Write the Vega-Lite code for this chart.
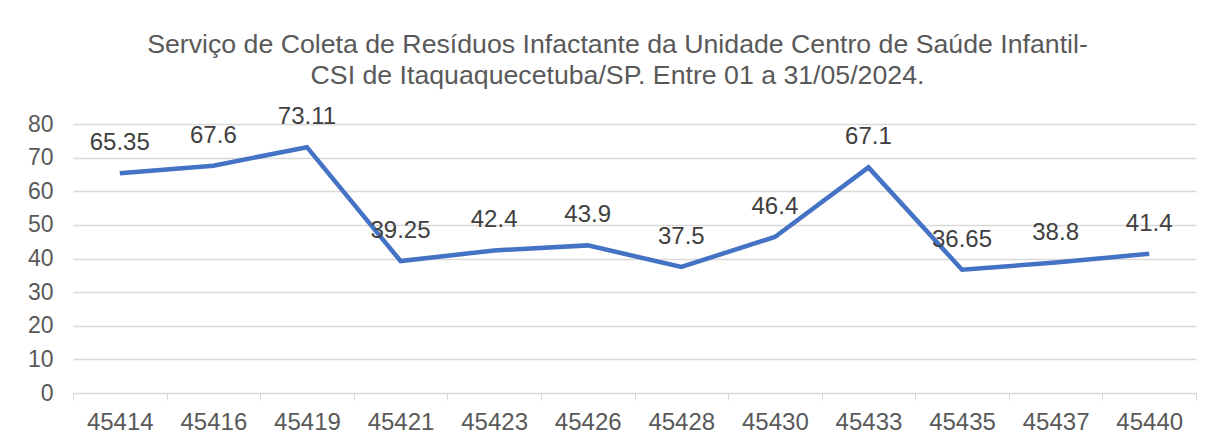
{
  "$schema": "https://vega.github.io/schema/vega-lite/v6.json",
  "autosize": "none",
  "width": 1123,
  "height": 269,
  "padding": {"left": 73, "top": 124, "right": 17, "bottom": 51},
  "background": "white",
  "title": {
    "text": ["Serviço de Coleta de Resíduos Infactante da Unidade Centro de Saúde Infantil-", "CSI de Itaquaquecetuba/SP. Entre 01 a 31/05/2024."],
    "font": "Liberation Sans",
    "fontSize": 26.7,
    "fontWeight": "normal",
    "color": "#595959",
    "lineHeight": 31,
    "anchor": "middle",
    "frame": "group",
    "dx": -17,
    "offset": 15
  },
  "config": {
    "view": {"stroke": null},
    "font": "Liberation Sans"
  },
  "data": {
    "values": [
      {"d": "45414", "v": 65.35},
      {"d": "45416", "v": 67.6},
      {"d": "45419", "v": 73.11},
      {"d": "45421", "v": 39.25},
      {"d": "45423", "v": 42.4},
      {"d": "45426", "v": 43.9},
      {"d": "45428", "v": 37.5},
      {"d": "45430", "v": 46.4},
      {"d": "45433", "v": 67.1},
      {"d": "45435", "v": 36.65},
      {"d": "45437", "v": 38.8},
      {"d": "45440", "v": 41.4}
    ]
  },
  "encoding": {
    "x": {
      "field": "d", "type": "nominal", "sort": null,
      "scale": {"paddingInner": 0, "paddingOuter": 0},
      "axis": {
        "title": null, "labelAngle": 0, "labelFontSize": 24, "labelColor": "#595959",
        "domainColor": "#d9d9d9", "tickColor": "#d9d9d9", "tickSize": 7, "tickBand": "extent",
        "labelPadding": 10, "grid": false
      }
    },
    "y": {
      "field": "v", "type": "quantitative",
      "scale": {"domain": [0, 80], "nice": false},
      "axis": {
        "title": null, "values": [0, 10, 20, 30, 40, 50, 60, 70, 80], "labelFontSize": 23, "labelColor": "#595959",
        "domain": false, "ticks": false, "labelPadding": 20, "gridColor": "#d9d9d9", "gridWidth": 1.3
      }
    }
  },
  "layer": [
    {"mark": {"type": "line", "color": "#4472C4", "strokeWidth": 4.5}},
    {"mark": {"type": "text", "fontSize": 24, "color": "#404040", "dy": -30, "baseline": "middle"},
     "encoding": {"text": {"field": "v", "type": "quantitative"}}}
  ]
}
